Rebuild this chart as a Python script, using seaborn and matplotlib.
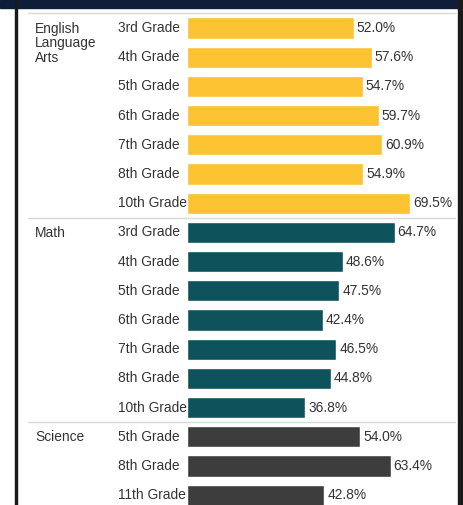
import pandas as pd
import matplotlib.pyplot as plt
import seaborn as sns
from matplotlib.patches import Rectangle
from matplotlib.lines import Line2D

# Data
subjects = ['English\nLanguage\nArts', 'Math', 'Science']
ela_grades = ['3rd Grade', '4th Grade', '5th Grade', '6th Grade', '7th Grade', '8th Grade', '10th Grade']
ela_values = [52.0, 57.6, 54.7, 59.7, 60.9, 54.9, 69.5]
math_grades = ['3rd Grade', '4th Grade', '5th Grade', '6th Grade', '7th Grade', '8th Grade', '10th Grade']
math_values = [64.7, 48.6, 47.5, 42.4, 46.5, 44.8, 36.8]
science_grades = ['5th Grade', '8th Grade', '11th Grade']
science_values = [54.0, 63.4, 42.8]

colors = {'English\nLanguage\nArts': '#FBC232', 'Math': '#0E535C', 'Science': '#3D3D3D'}

# Build a long table, one row per bar
rows = []
for subj, grades, vals in zip(subjects, [ela_grades, math_grades, science_grades],
                              [ela_values, math_values, science_values]):
    for g, v in zip(grades, vals):
        rows.append({'subject': subj, 'grade': g, 'value': v, 'row': f'{subj}|{g}'})
df = pd.DataFrame(rows)

sns.set_theme(style='white')
plt.rcParams['font.family'] = ['Liberation Sans', 'DejaVu Sans']

W, H = 464, 505
fig = plt.figure(figsize=(W / 100, H / 100), dpi=100)
fig.patch.set_facecolor('white')

# axes placed so that bars start at x=187px
ax_left, ax_right = 187, 458
ax = fig.add_axes([ax_left / W, 0, (ax_right - ax_left) / W, 1])
sns.barplot(data=df, x='value', y='row', hue='subject', palette=colors, saturation=1,
            dodge=False, width=0.72, legend=False, ax=ax, order=df['row'])

px_per_pct = 3.21
ax.set_xlim(0, (ax_right - ax_left) / px_per_pct)
row_h = 29.2
first_c = 28
ax.set_ylim((H - first_c) / row_h, -first_c / row_h)
ax.axis('off')

text_color = '#333333'
fs = 9.9

# value labels
for i, v in enumerate(df['value']):
    ax.text(v + 0.9, i, f'{v:.1f}%', va='center', ha='left', fontsize=fs, color=text_color)

# grade labels and subject labels, in figure pixel x / data y
def fx(px):
    return (px - ax_left) / px_per_pct

for i, g in enumerate(df['grade']):
    ax.text(fx(118), i, g, va='center', ha='left', fontsize=fs, color=text_color)

start = 0
for subj in subjects:
    n = (df['subject'] == subj).sum()
    ax.text(fx(35), start - 0.22, subj, va='top', ha='left', fontsize=fs,
            color=text_color, linespacing=1.08)
    # separator line above each group
    ax.add_line(Line2D([fx(28), fx(455)], [start - 0.5, start - 0.5], color='#D9D9D9',
                       lw=1.0, clip_on=False))
    start += n

# frame: navy band on top, dark borders on both sides
fig.patches.append(Rectangle((0, 1 - 8 / H), 1, 8 / H, transform=fig.transFigure,
                             color='#0E1E38', zorder=10))
fig.patches.append(Rectangle((15 / W, 0), 2 / W, 1, transform=fig.transFigure,
                             color='#1A1A1A', zorder=10))
fig.patches.append(Rectangle((458 / W, 0), 6 / W, 1, transform=fig.transFigure,
                             color='#1A1A1A', zorder=10))

fig.savefig('out.png', dpi=100)
